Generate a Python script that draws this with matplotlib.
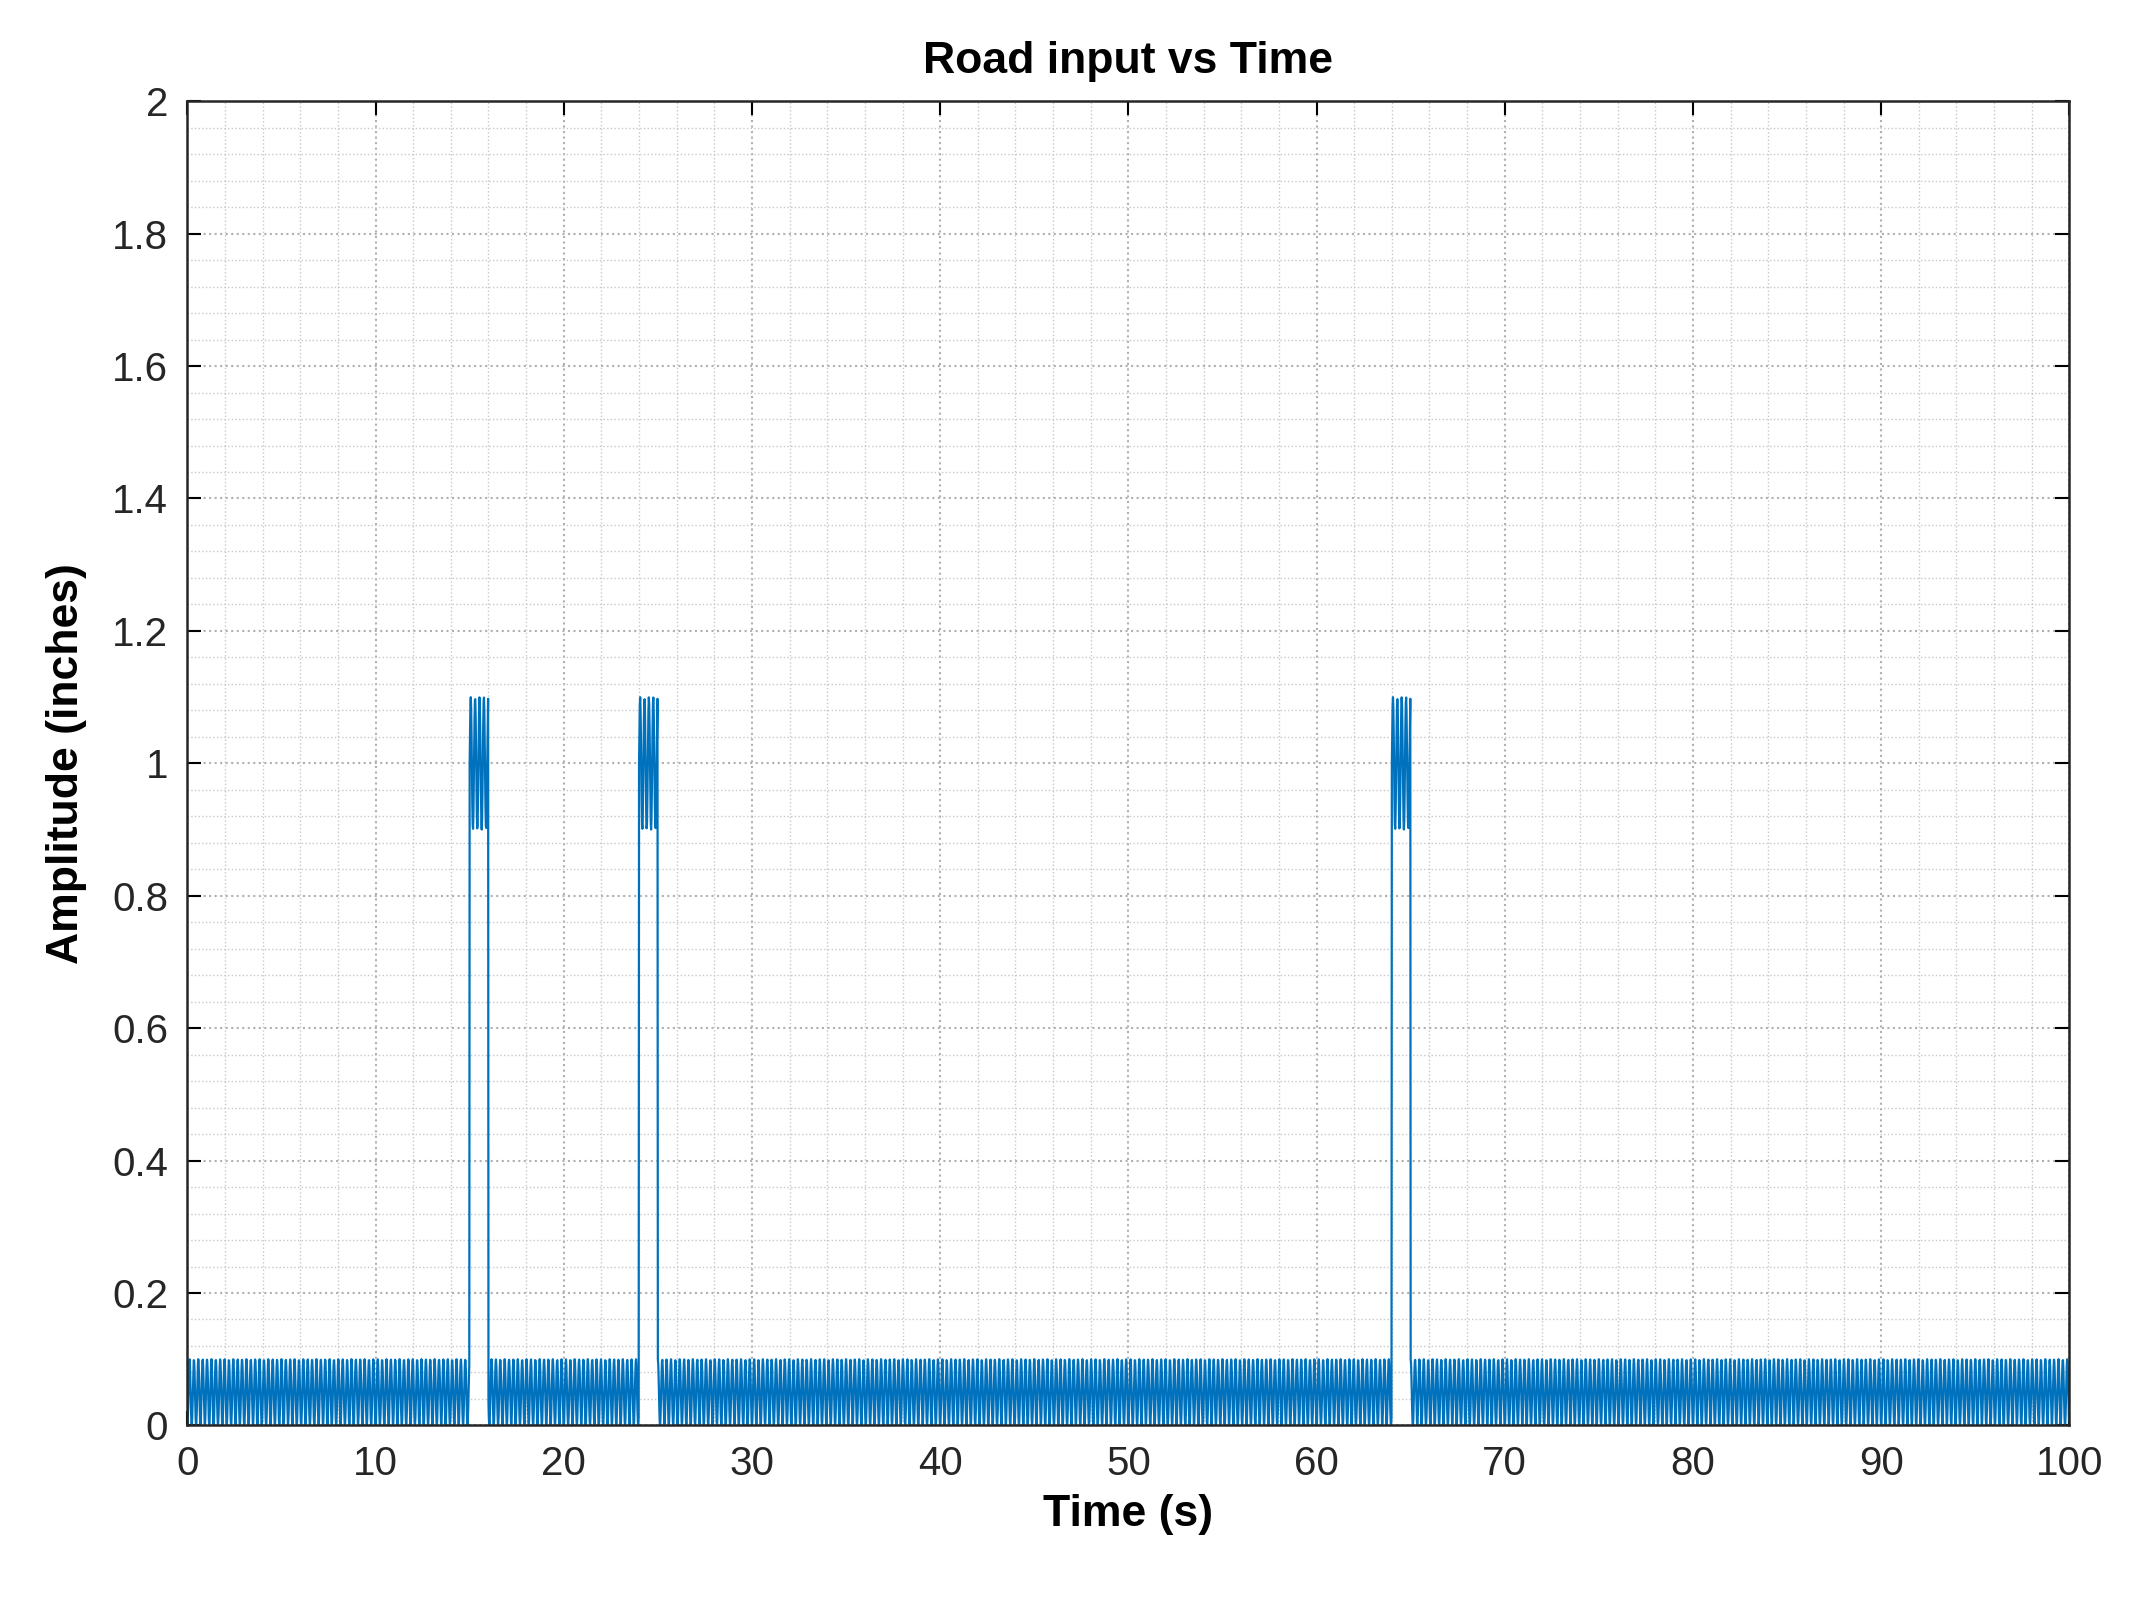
import numpy as np
import matplotlib

matplotlib.use("Agg")
import matplotlib.pyplot as plt
from matplotlib.ticker import MultipleLocator, FormatStrFormatter, FuncFormatter

# road profile parameters
t_end = 100.0
base_amp = 0.1        # small road roughness, 0..0.1 in
base_freq = 4.3       # Hz (dense, aliased look)
bump_starts = [15.0, 24.0, 64.0]
bump_width = 1.0      # s
bump_level = 1.0
bump_ripple = 0.1

t = np.arange(0, t_end, 0.02)
y = base_amp * 0.5 * (1 - np.cos(2 * np.pi * base_freq * t))
for t0 in bump_starts:
    m = (t >= t0) & (t < t0 + bump_width)
    y[m] = bump_level + bump_ripple * np.sin(2 * np.pi * base_freq * (t[m] - t0))
    gap = (t >= t0 + 0.5) & (t < t0 + bump_width)
    y[gap & (y < 0.5)] = bump_level

plt.rcParams["font.family"] = ["Liberation Sans", "DejaVu Sans"]
fig = plt.figure(figsize=(21.29, 16.07), dpi=100)
ax = fig.add_axes([0.088, 0.113, 0.884, 0.824])
ax.plot(t, y, color="#0072BD", lw=1.6)

ax.set_xlim(0, 100)
ax.set_ylim(0, 2)
ax.xaxis.set_major_locator(MultipleLocator(10))
ax.xaxis.set_minor_locator(MultipleLocator(2))
ax.yaxis.set_major_locator(MultipleLocator(0.2))
ax.yaxis.set_minor_locator(MultipleLocator(0.04))
ax.yaxis.set_major_formatter(FuncFormatter(lambda v, p: f"{v:.1f}".rstrip("0").rstrip(".")))
ax.grid(which="major", ls=":", color="#b0b0b0", lw=1.5)
ax.grid(which="minor", ls=":", color="#c8c8c8", lw=1.0)
ax.tick_params(which="major", direction="in", length=10, width=1.5,
               labelsize=29, top=True, right=True, pad=14, labelcolor="#262626")
ax.tick_params(which="minor", length=0)
for s in ax.spines.values():
    s.set_linewidth(1.8)
    s.set_color("#262626")

ax.set_title("Road input vs Time", fontsize=32, fontweight="bold", pad=20)
ax.set_xlabel("Time (s)", fontsize=32, fontweight="bold", labelpad=8)
ax.set_ylabel("Amplitude (inches)", fontsize=32, fontweight="bold", labelpad=18)

fig.savefig("out.png", dpi=100)
